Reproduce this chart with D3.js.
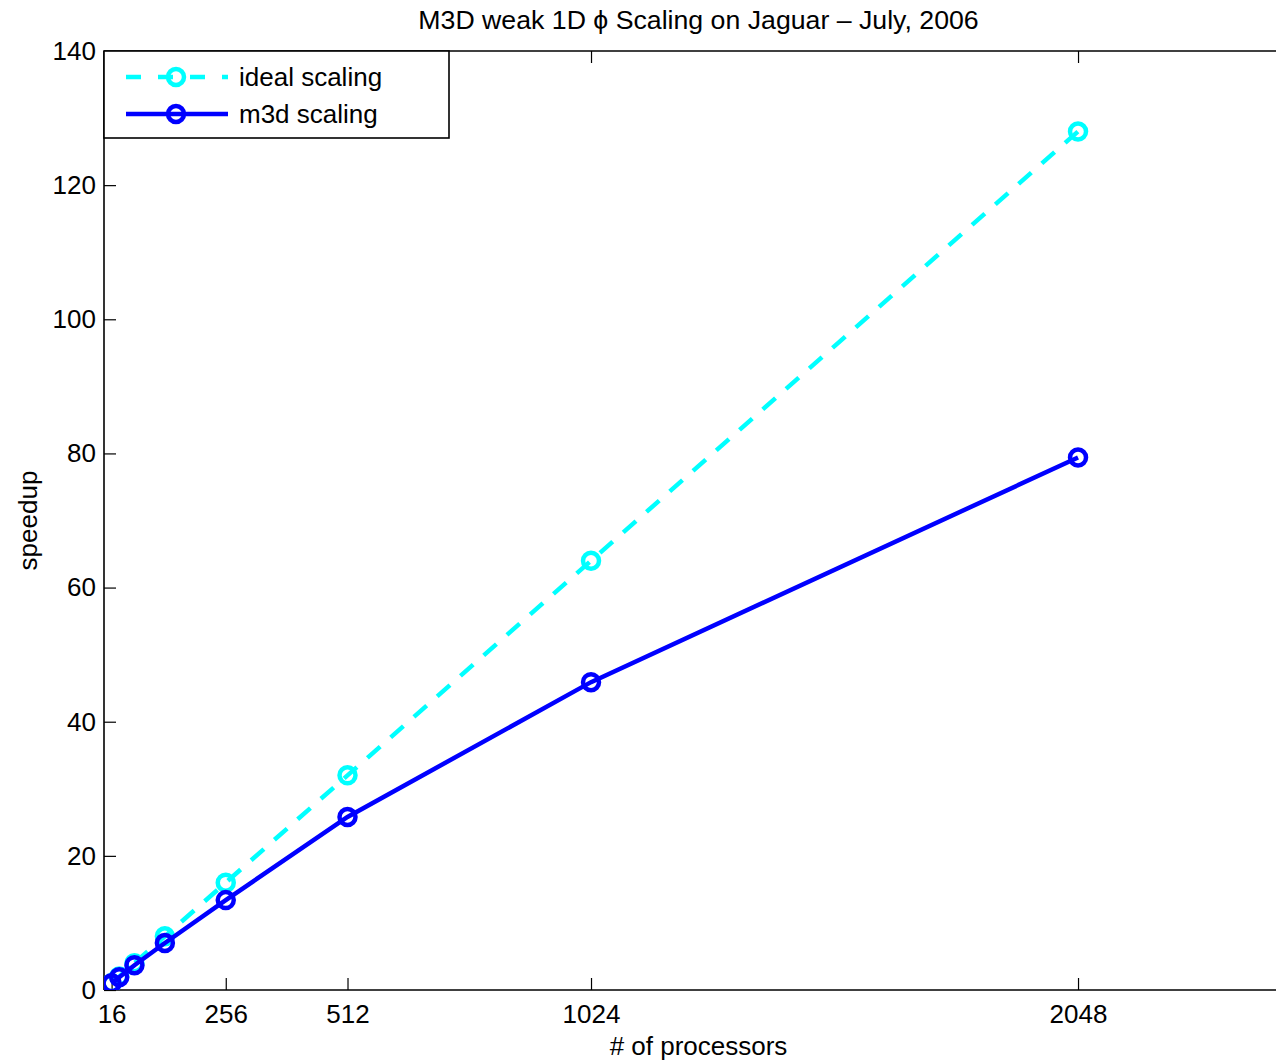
<!DOCTYPE html>
<html>
<head>
<meta charset="utf-8">
<script src="https://cdn.jsdelivr.net/npm/d3@7"></script>
<style>
  html, body { margin: 0; padding: 0; background: #fff; }
  svg { display: block; font-family: "Liberation Sans", Arial, sans-serif; }
</style>
</head>
<body>
<svg id="chart" width="1276" height="1061"></svg>
<script>
// data
const processors = [16, 32, 64, 128, 256, 512, 1024, 2048]
const idealSpeedup = [1, 2, 4, 8, 16, 32, 64, 128]
const m3dSpeedup = [1, 1.9, 3.7, 7, 13.4, 25.8, 45.9, 79.4]
const xTicks = [16, 256, 512, 1024, 2048]
const yTicks = [0, 20, 40, 60, 80, 100, 120, 140]
const seriesNames = ['ideal scaling', 'm3d scaling']

const title = 'M3D weak 1D \u03d5 Scaling on Jaguar \u2013 July, 2006'

const svg = d3.select('#chart')

const plotLeft = 104
const plotTop = 51
const plotBottom = 990
const plotRight = 1293   // axes box runs past the picture edge

const x = d3.scaleLinear().domain([0, 2500]).range([plotLeft, plotRight])
const y = d3.scaleLinear().domain([0, 140]).range([plotBottom, plotTop])

const series = [
    { name: seriesNames[0], values: idealSpeedup, color: '#00ffff', dash: '17,14' },
    { name: seriesNames[1], values: m3dSpeedup, color: '#0000ff', dash: null }
]

const clip = svg.append('defs').append('clipPath').attr('id', 'plotclip')
clip.append('rect').attr('x', plotLeft).attr('y', plotTop)
    .attr('width', plotRight - plotLeft).attr('height', plotBottom - plotTop)

// axes
const fontSize = 26

const gx = svg.append('g')
    .attr('transform', `translate(0,${plotBottom})`)
    .call(d3.axisBottom(x).tickValues(xTicks).tickSize(-12).tickPadding(15).tickFormat(d3.format('d')))
const gxTop = svg.append('g')
    .attr('transform', `translate(0,${plotTop})`)
    .call(d3.axisTop(x).tickValues(xTicks).tickSize(-12).tickFormat(''))
const gy = svg.append('g')
    .attr('transform', `translate(${plotLeft},0)`)
    .call(d3.axisLeft(y).tickValues(yTicks).tickSize(-12).tickPadding(8))

for (const g of [gx, gxTop, gy]) {
    g.select('.domain').attr('stroke', '#000').attr('stroke-width', 1.6)
    g.selectAll('.tick line').attr('stroke', '#000').attr('stroke-width', 1.2)
    g.selectAll('.tick text').attr('font-size', fontSize).attr('fill', '#000')
        .style('font-family', '"Liberation Sans", Arial, sans-serif')
}
gx.select('.domain').attr('d', `M${plotLeft},0H${plotRight}`)
gxTop.select('.domain').attr('d', `M${plotLeft},0H${plotRight}`)
gy.select('.domain').attr('d', `M0,${plotBottom}V${plotTop}`)

// lines + markers
const line = d3.line().x((d, i) => x(processors[i])).y(d => y(d))

const plot = svg.append('g').attr('clip-path', 'url(#plotclip)')
for (const s of series) {
    plot.append('path')
        .attr('d', line(s.values))
        .attr('fill', 'none')
        .attr('stroke', s.color)
        .attr('stroke-width', 4.5)
        .attr('stroke-dasharray', s.dash)
    plot.selectAll(null).data(s.values).enter()
        .append('circle')
        .attr('cx', (d, i) => x(processors[i]))
        .attr('cy', d => y(d))
        .attr('r', 8)
        .attr('fill', 'none')
        .attr('stroke', s.color)
        .attr('stroke-width', 4.5)
}

// legend
const legend = svg.append('g')
legend.append('rect')
    .attr('x', plotLeft).attr('y', plotTop)
    .attr('width', 449 - plotLeft).attr('height', 138 - plotTop)
    .attr('fill', '#fff').attr('stroke', '#000').attr('stroke-width', 1.6)
series.forEach((s, i) => {
    const ly = 77 + i * 37
    legend.append('line')
        .attr('x1', 126).attr('x2', 228).attr('y1', ly).attr('y2', ly)
        .attr('stroke', s.color).attr('stroke-width', 4.5)
        .attr('stroke-dasharray', s.dash ? '15,17' : null)
    legend.append('circle')
        .attr('cx', 176).attr('cy', ly).attr('r', 8)
        .attr('fill', 'none').attr('stroke', s.color).attr('stroke-width', 4.5)
    legend.append('text')
        .attr('x', 239).attr('y', ly).attr('dy', '0.35em')
        .attr('font-size', fontSize).text(s.name)
})

// labels
svg.append('text')
    .attr('x', (plotLeft + plotRight) / 2).attr('y', 20).attr('dy', '0.35em')
    .attr('text-anchor', 'middle').attr('font-size', 26.7)
    .text(title)
svg.append('text')
    .attr('x', (plotLeft + plotRight) / 2).attr('y', 1046).attr('dy', '0.35em')
    .attr('text-anchor', 'middle').attr('font-size', fontSize)
    .text('# of processors')
svg.append('text')
    .attr('transform', `translate(28,${(plotTop + plotBottom) / 2}) rotate(-90)`)
    .attr('dy', '0.35em')
    .attr('text-anchor', 'middle').attr('font-size', fontSize)
    .text('speedup')
</script>
</body>
</html>
